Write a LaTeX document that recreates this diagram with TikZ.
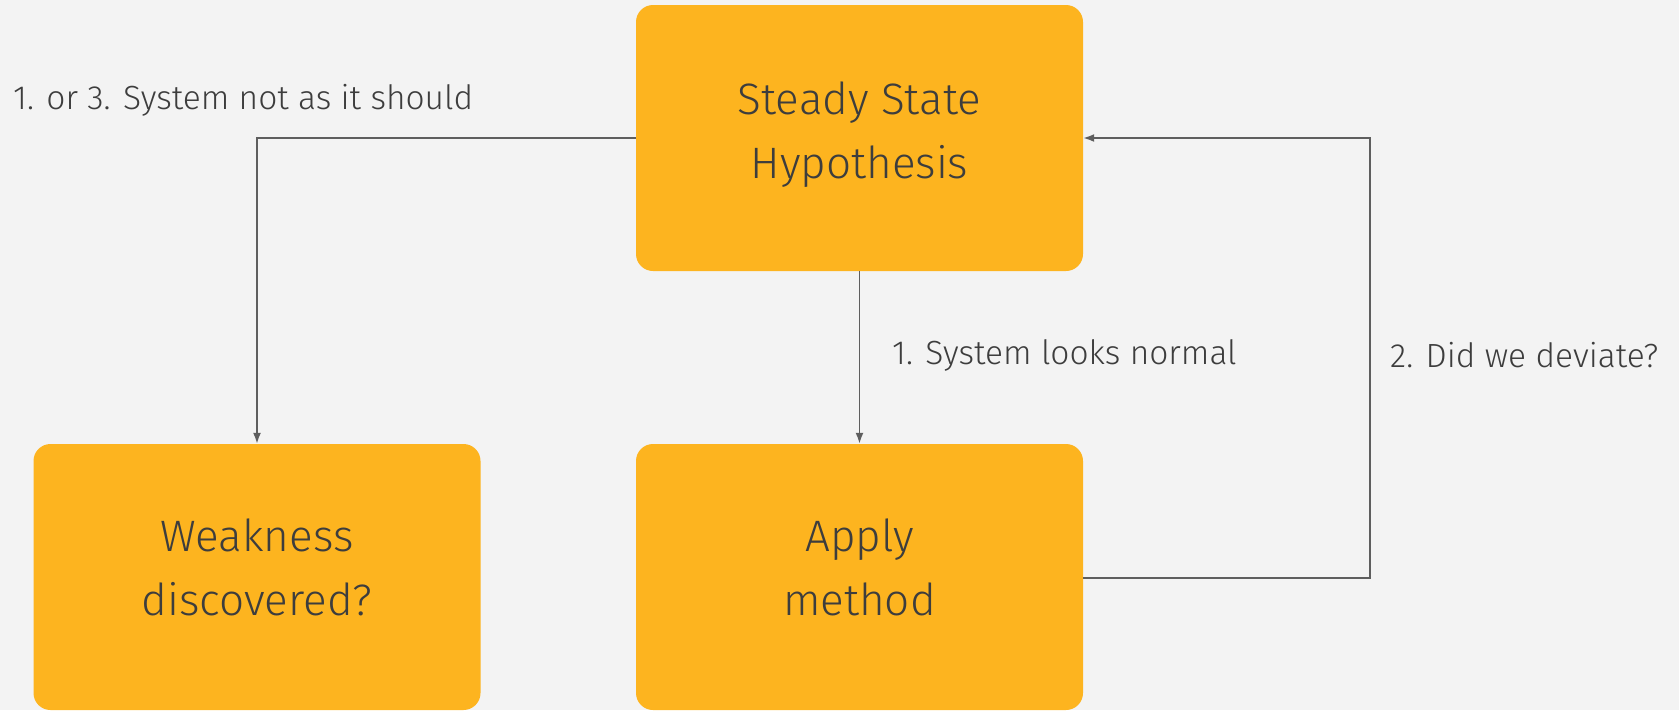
\documentclass[tikz,border=0pt]{standalone}
\usepackage{fontspec}
\setmainfont{Fira Sans}[UprightFont={* Light}]
\usetikzlibrary{arrows.meta}
\definecolor{bg}{HTML}{F3F3F3}
\definecolor{boxfill}{HTML}{FDB41F}
\definecolor{ink}{HTML}{3D3D3D}
\definecolor{wire}{HTML}{5E5E5E}
\tikzset{
  stage/.style={fill=boxfill, draw=none, rounded corners=17pt,
    minimum width=447pt, minimum height=266pt, inner sep=0pt},
  stagetext/.style={align=center, text=ink, inner sep=0pt,
    font=\fontsize{44}{64}\selectfont},
  flow/.style={draw=wire, line width=1.8pt, -{Latex[length=11pt,width=8pt]}},
  note/.style={text=ink, font=\fontsize{33.5}{38}\selectfont, inner sep=0pt}
}
\begin{document}
\begin{tikzpicture}[x=1pt,y=-1pt]
  \fill[bg] (0,0) rectangle (1679,710);
  \useasboundingbox (0,0) rectangle (1679,710);

  % the three stages
  \node[stage] (hyp) at (859.5,138) {};
  \node[stage] (weak) at (257,577) {};
  \node[stage] (apply) at (859.5,577) {};

  \node[stagetext] (hypt) at ([yshift=3pt]hyp.center) {Steady State\\Hypothesis};
  \node[stagetext] (weakt) at ([yshift=10pt]weak.center) {Weakness\\discovered?};
  \node[stagetext] (applyt) at ([yshift=10pt]apply.center) {Apply\\method};

  \coordinate (loop) at (1370,578);

  % connectors
  \draw[flow] (hyp.west) -| (weak.north);
  \draw[flow] (hyp.south) -- (apply.north);
  \draw[flow] (apply.east |- loop) -- (loop) |- (hyp.east);

  % connector labels
  \node[note, anchor=west] (lbad) at (13,100) {1. or 3. System not as it should};
  \node[note, anchor=west] (lok) at (892,355) {1. System looks normal};
  \node[note, anchor=west] (ldev) at (1390,355) {2. Did we deviate?};
\end{tikzpicture}
\end{document}
